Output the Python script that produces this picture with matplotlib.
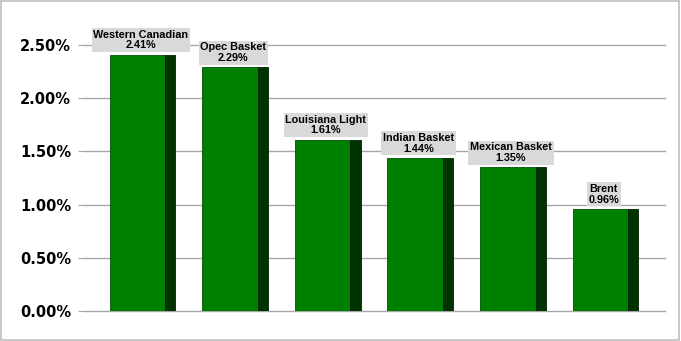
import matplotlib.pyplot as plt
from matplotlib.patches import Rectangle
from matplotlib.ticker import FuncFormatter

# Data
names = ['Western Canadian', 'Opec Basket', 'Louisiana Light', 'Indian Basket',
         'Mexican Basket', 'Brent']
values = [2.41, 2.29, 1.61, 1.44, 1.35, 0.96]
yticks = [0.0, 0.5, 1.0, 1.5, 2.0, 2.5]

fig = plt.figure(figsize=(6.81, 3.41), dpi=100)
ax = fig.add_axes([0.125, 0.088, 0.851, 0.78])

width = 0.71
side = 0.11
for i, v in enumerate(values):
    ax.bar(i - side / 2, v, width=width - side, color='#008000',
           edgecolor='#005000', linewidth=0.6, zorder=3)
    ax.bar(i + (width - side) / 2, v, width=side, color='#003300',
           edgecolor='#002200', linewidth=0.6, zorder=3)
    ax.text(i - 0.02, v + 0.04, f'{names[i]}\n{v:.2f}%', ha='center', va='bottom',
            fontsize=7.8, fontweight='bold', family='Liberation Sans',
            linespacing=1.1, zorder=4,
            bbox=dict(boxstyle='square,pad=0.15', fc='#d9d9d9', ec='none'))

ax.set_xlim(-0.62, 5.64)
ax.set_ylim(0, 2.5)
ax.set_yticks(yticks)
ax.yaxis.set_major_formatter(FuncFormatter(lambda y, _: f'{y:.2f}%'))
ax.set_xticks([])
ax.grid(axis='y', color='#a6a6a6', linewidth=1, zorder=0)
for gl in ax.get_ygridlines():
    gl.set_clip_on(False)
for s in ax.spines.values():
    s.set_visible(False)
ax.tick_params(axis='y', length=5, color='#a6a6a6', pad=5)
for lab in ax.get_yticklabels():
    lab.set_fontweight('bold')
    lab.set_fontsize(10.5)

fig.patches.append(Rectangle((0.002, 0.003), 0.995, 0.994, transform=fig.transFigure,
                             fill=False, ec='#bfbfbf', lw=1.2))

fig.savefig('out.png', dpi=100)
